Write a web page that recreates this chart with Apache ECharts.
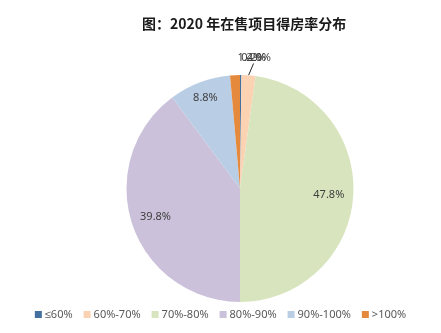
<!DOCTYPE html>
<html>
<head>
<meta charset="utf-8">
<script src="https://cdn.jsdelivr.net/npm/echarts@6/dist/echarts.min.js"></script>
<style>
  html, body { margin: 0; padding: 0; background: #fff; }
  #chart { width: 441px; height: 333px; }
</style>
</head>
<body>
<div id="chart"></div>
<script>
// Share of projects on sale in 2020 by efficiency-ratio band
const categories = ['≤60%', '60%-70%', '70%-80%', '80%-90%', '90%-100%', '>100%'];
const shares = [0.2, 2.0, 47.8, 39.8, 8.8, 1.4];
const colors = ['#44709f', '#fbd3b3', '#d7e4bd', '#ccc1da', '#b9cde5', '#e58a3c'];

const CX = 240, CY = 188.5, R = 113.5;
const total = shares.reduce((a, b) => a + b, 0);

// mid angle of each slice, clockwise from 12 o'clock, in radians
const midAngles = [];
(function () {
  let acc = 0;
  shares.forEach(v => {
    midAngles.push((acc + v / 2) / total * Math.PI * 2);
    acc += v;
  });
})();

const polar = (a, r) => [CX + r * Math.sin(a), CY - r * Math.cos(a)];

// label radius for the large slices; the thin ones sit in a row above the pie
const labelRadius = { 2: 89, 3: 89, 4: 97 };

const chart = echarts.init(document.getElementById('chart'), null, { renderer: 'canvas' });

chart.setOption({
  backgroundColor: '#ffffff',
  animation: false,
  title: {
    text: '图：2020 年在售项目得房率分布',
    left: 137,
    top: 12,
    textStyle: {
      fontFamily: '"Noto Sans CJK SC", sans-serif',
      fontWeight: 'bold',
      fontSize: 14,
      color: '#1a1a1a'
    }
  },
  legend: {
    data: categories,
    bottom: 8,
    left: 'center',
    itemWidth: 7,
    itemHeight: 7,
    itemGap: 11,
    icon: 'rect',
    textStyle: {
      fontFamily: '"Noto Sans", sans-serif',
      fontSize: 11,
      color: '#595959',
      padding: [0, 0, 0, -2]
    }
  },
  series: [{
    type: 'pie',
    center: [CX, CY],
    radius: [0, R],
    startAngle: 90,
    clockwise: true,
    avoidLabelOverlap: false,
    color: colors,
    itemStyle: { borderWidth: 0 },
    label: {
      show: true,
      position: 'inside',
      formatter: p => p.value.toFixed(1) + '%',
      fontFamily: '"Noto Sans", sans-serif',
      fontSize: 11,
      color: '#404040'
    },
    labelLine: { show: false },
    emphasis: { disabled: true },
    data: categories.map((name, i) => {
      const item = { name: name, value: shares[i] };
      if (i === 1) {
        item.label = { position: 'outside' };
        item.labelLine = { show: true, length: 10, length2: 0, lineStyle: { color: '#262626', width: 1 } };
      }
      return item;
    }),
    labelLayout: function (params) {
      const i = params.dataIndex;
      const a = midAngles[i];
      if (labelRadius[i] != null) {
        const p = polar(a, labelRadius[i]);
        return { x: p[0], y: p[1], align: 'center', verticalAlign: 'middle' };
      }
      // thin slices: labels stacked in one row just above the top of the pie
      const edge = polar(a, R);
      const lx = CX + (edge[0] - CX) * 0.65 + 13;
      const ly = CY - R - 17.5;
      const out = { x: lx, y: ly, align: 'center', verticalAlign: 'middle' };
      if (i === 1) {
        out.labelLinePoints = [edge, [lx - 5, ly + 6]];
      }
      return out;
    }
  }]
});
</script>
</body>
</html>
